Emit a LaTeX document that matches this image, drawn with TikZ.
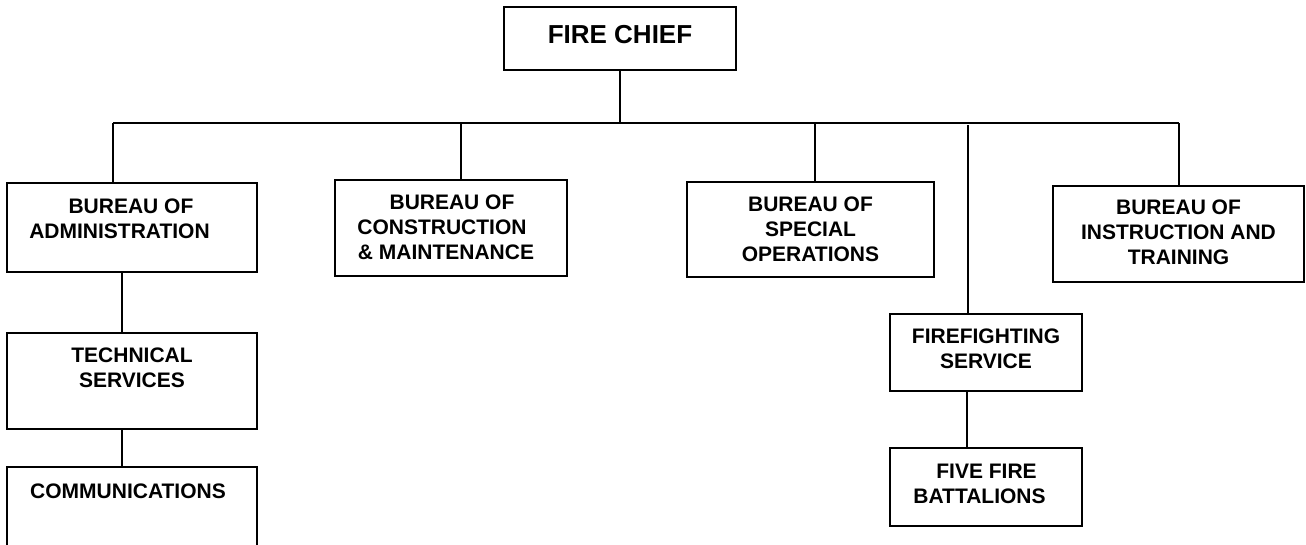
\documentclass[tikz,border=0pt]{standalone}
\usepackage{fontspec}
\setmainfont{Liberation Sans}
\begin{document}
\begin{tikzpicture}[x=1pt,y=-1pt,
  box/.style={draw=black,line width=2pt,rectangle,inner sep=0pt,fill=none},
  lbl/.style={inner sep=0pt,align=center,font=\fontsize{21}{25}\selectfont\bfseries},
  conn/.style={draw=black,line width=2pt}]
\clip (0,0) rectangle (1306,544);
% boxes
\node[box,minimum width=232pt,minimum height=63pt] (chief) at (620,38.5) {};
\node[box,minimum width=250pt,minimum height=89pt] (admin) at (132,227.5) {};
\node[box,minimum width=232pt,minimum height=96pt] (cons) at (451,228) {};
\node[box,minimum width=247pt,minimum height=95pt] (spec) at (810.5,229.5) {};
\node[box,minimum width=251pt,minimum height=96pt] (instr) at (1178.5,234) {};
\node[box,minimum width=250pt,minimum height=96pt] (tech) at (132,381) {};
\node[box,minimum width=250pt,minimum height=83pt] (comms) at (132,508.5) {};
\node[box,minimum width=192pt,minimum height=77pt] (fire) at (986,352.5) {};
\node[box,minimum width=192pt,minimum height=78pt] (batt) at (986,487) {};
% labels
\node[lbl,font=\fontsize{26}{30}\selectfont\bfseries,anchor=base] (chiefT) at (620,43) {FIRE CHIEF};
\node[lbl,anchor=north] (adminT) at (119.5,199) {\hspace*{23pt}BUREAU OF\\ADMINISTRATION};
\node[lbl,anchor=north] (consT) at (442,195) {\hspace*{20pt}BUREAU OF\\CONSTRUCTION\\\hspace*{8pt}\&~MAINTENANCE};
\node[lbl,anchor=north] (specT) at (810.5,197) {BUREAU OF\\SPECIAL\\OPERATIONS};
\node[lbl,anchor=north] (instrT) at (1178.5,200) {BUREAU OF\\INSTRUCTION AND\\TRAINING};
\node[lbl,anchor=north] (techT) at (132,348) {TECHNICAL\\SERVICES};
\node[lbl,anchor=base] (commsT) at (128,498) {COMMUNICATIONS};
\node[lbl,anchor=north] (fireT) at (986,329) {FIREFIGHTING\\SERVICE};
\node[lbl,anchor=north] (battT) at (979.5,464) {\hspace*{14pt}FIVE FIRE\\BATTALIONS};
% bus coordinates
\coordinate (bA) at (113,123);
\coordinate (bC) at (461,123);
\coordinate (bS) at (815,123);
\coordinate (bF) at (968,123);
\coordinate (bI) at (1179,123);
\coordinate (xT) at (122,0);
\coordinate (xB) at (967,0);
% connectors
\draw[conn] (chief.south) -- (chief.south |- bA);
\draw[conn] (bA) -- (bI);
\draw[conn] (bA) -- (bA |- admin.north);
\draw[conn] (bC) -- (bC |- cons.north);
\draw[conn] (bS) -- (bS |- spec.north);
\draw[conn] (bI) -- (bI |- instr.north);
\draw[conn] ([yshift=-2pt]bF) -- (bF |- fire.north);
\draw[conn] (xT |- admin.south) -- (xT |- tech.north);
\draw[conn] (xT |- tech.south) -- (xT |- comms.north);
\draw[conn] (xB |- fire.south) -- (xB |- batt.north);
\end{tikzpicture}
\end{document}
